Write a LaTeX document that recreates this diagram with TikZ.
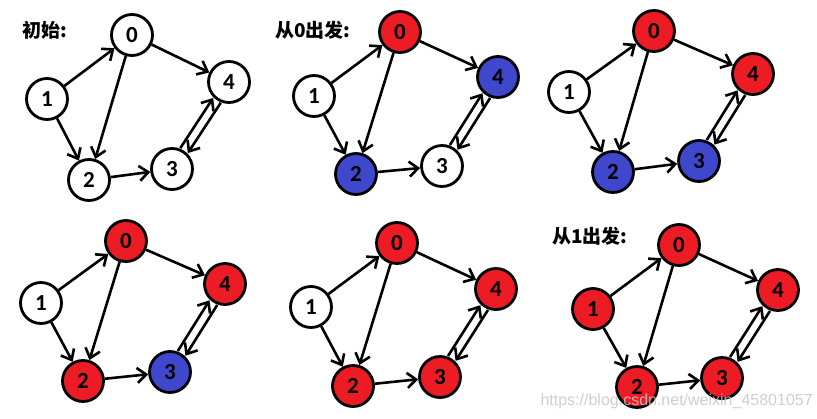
\documentclass[tikz,border=0pt]{standalone}
\usepackage{fontspec}
\newfontfamily\cjk{Noto Sans CJK SC}
\newfontfamily\numfont{Carlito}
\newfontfamily\wmfont{Liberation Sans}
\usetikzlibrary{arrows.meta,calc}
\definecolor{pred}{HTML}{ED1C24}
\definecolor{pblue}{HTML}{3F48CC}
\tikzset{
 vtx/.style={circle,draw=black,line width=2.8pt,minimum size=41pt,inner sep=0pt,
   font=\numfont\bfseries\fontsize{23}{23}\selectfont,fill=white},
 rv/.style={vtx,fill=pred},
 bv/.style={vtx,fill=pblue},
 arr/.style={line width=2.6pt,-{Straight Barb[length=9pt,width=15pt]}},
 dbl/.style={arr,shorten <=22pt,shorten >=22pt},
 lbl/.style={font=\cjk\bfseries\fontsize{19}{19}\selectfont},
 wm/.style={font=\wmfont\fontsize{16}{16}\selectfont,text=gray!45,opacity=0.85,anchor=base west},
}
\newcommand\drawedges[1]{%
 \draw[arr] (#1-1) -- (#1-0);
 \draw[arr] (#1-1) -- (#1-2);
 \draw[arr] (#1-0) -- (#1-2);
 \draw[arr] (#1-0) -- (#1-4);
 \draw[arr] (#1-2) -- (#1-3);
 \draw[dbl] ($(#1-3.center)!4.5pt!90:(#1-4.center)$) -- ($(#1-4.center)!4.5pt!-90:(#1-3.center)$);
 \draw[dbl] ($(#1-4.center)!4.5pt!90:(#1-3.center)$) -- ($(#1-3.center)!4.5pt!-90:(#1-4.center)$);
}
\begin{document}
\begin{tikzpicture}[x=1pt,y=-1pt]
\useasboundingbox[fill=white] (0,0) rectangle (817,418);
% panel 1
\node[lbl] (la) at (45,30) {初始:};
\node[vtx] (a-0) at (132,35) {0};
\node[vtx] (a-1) at (47,99) {1};
\node[vtx] (a-2) at (89,180) {2};
\node[vtx] (a-3) at (172,169) {3};
\node[vtx] (a-4) at (229,82) {4};
\drawedges{a}
% panel 2
\node[lbl] (lb) at (313,30) {从0出发:};
\node[rv] (b-0) at (400,32) {0};
\node[vtx] (b-1) at (314,96) {1};
\node[bv] (b-2) at (356,174) {2};
\node[vtx] (b-3) at (442,166) {3};
\node[bv] (b-4) at (498,77) {4};
\drawedges{b}
% panel 3
\node[rv] (c-0) at (654,31) {0};
\node[vtx] (c-1) at (569,92) {1};
\node[bv] (c-2) at (613,172) {2};
\node[bv] (c-3) at (699,161) {3};
\node[rv] (c-4) at (753,74) {4};
\drawedges{c}
% panel 4
\node[rv] (d-0) at (126,241) {0};
\node[vtx] (d-1) at (41,303) {1};
\node[rv] (d-2) at (83,381) {2};
\node[bv] (d-3) at (170,372) {3};
\node[rv] (d-4) at (225,284) {4};
\drawedges{d}
% panel 5
\node[rv] (e-0) at (397,243) {0};
\node[vtx] (e-1) at (311,307) {1};
\node[rv] (e-2) at (353,386) {2};
\node[rv] (e-3) at (440,377) {3};
\node[rv] (e-4) at (496,289) {4};
\drawedges{e}
% panel 6
\node[lbl] (lf) at (590,236) {从1出发:};
\node[rv] (f-0) at (679,245) {0};
\node[rv] (f-1) at (593,309) {1};
\node[rv] (f-2) at (637,387) {2};
\node[rv] (f-3) at (722,378) {3};
\node[rv] (f-4) at (778,290) {4};
\drawedges{f}
% watermark
\node[wm] (w) at (537,405) {https://blog.csdn.net/weixin\_45801057};
\end{tikzpicture}
\end{document}
